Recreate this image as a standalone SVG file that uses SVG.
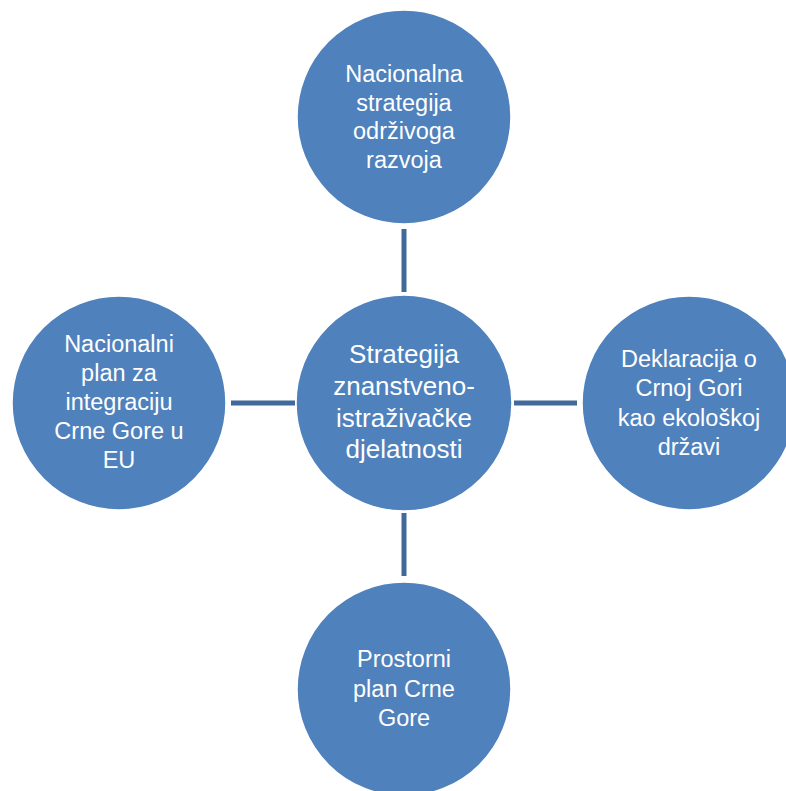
<svg xmlns="http://www.w3.org/2000/svg" width="786" height="791" viewBox="0 0 786 791">
<style>
.node{fill:#4F81BD;stroke:#FFFFFF;stroke-width:1.5}
.lbl{fill:#FFFFFF;font-family:"Liberation Sans",Arial,sans-serif;font-size:23.5px;text-anchor:middle}
.big{font-size:26px}
.conn{stroke:#41699B;stroke-width:5;fill:none}
</style>
<rect width="786" height="791" fill="#FFFFFF"/>
<g id="connectors">
<line class="conn" x1="404" y1="229" x2="404" y2="292"/>
<line class="conn" x1="404" y1="513" x2="404" y2="576"/>
<line class="conn" x1="231" y1="403" x2="295" y2="403"/>
<line class="conn" x1="514" y1="403" x2="577" y2="403"/>
</g>
<g id="top">
<circle class="node" cx="404" cy="117" r="107"/>
<text class="lbl" x="404" y="82">Nacionalna</text>
<text class="lbl" x="404" y="110.5">strategija</text>
<text class="lbl" x="404" y="139">održivoga</text>
<text class="lbl" x="404" y="167.5">razvoja</text>
</g>
<g id="center">
<circle class="node" cx="404" cy="403" r="108"/>
<text class="lbl big" x="404" y="363">Strategija</text>
<text class="lbl big" x="404" y="395">znanstveno-</text>
<text class="lbl big" x="404" y="427">istraživačke</text>
<text class="lbl big" x="404" y="458">djelatnosti</text>
</g>
<g id="left">
<circle class="node" cx="119" cy="403" r="107"/>
<text class="lbl" x="119" y="352">Nacionalni</text>
<text class="lbl" x="119" y="381">plan za</text>
<text class="lbl" x="119" y="410">integraciju</text>
<text class="lbl" x="119" y="439">Crne Gore u</text>
<text class="lbl" x="119" y="468">EU</text>
</g>
<g id="right">
<circle class="node" cx="689" cy="403" r="107"/>
<text class="lbl" x="689" y="367">Deklaracija o</text>
<text class="lbl" x="689" y="396">Crnoj Gori</text>
<text class="lbl" x="689" y="426">kao ekološkoj</text>
<text class="lbl" x="689" y="455">državi</text>
</g>
<g id="bottom">
<circle class="node" cx="404" cy="689" r="107"/>
<text class="lbl" x="404" y="667">Prostorni</text>
<text class="lbl" x="404" y="697">plan Crne</text>
<text class="lbl" x="404" y="726">Gore</text>
</g>
</svg>
